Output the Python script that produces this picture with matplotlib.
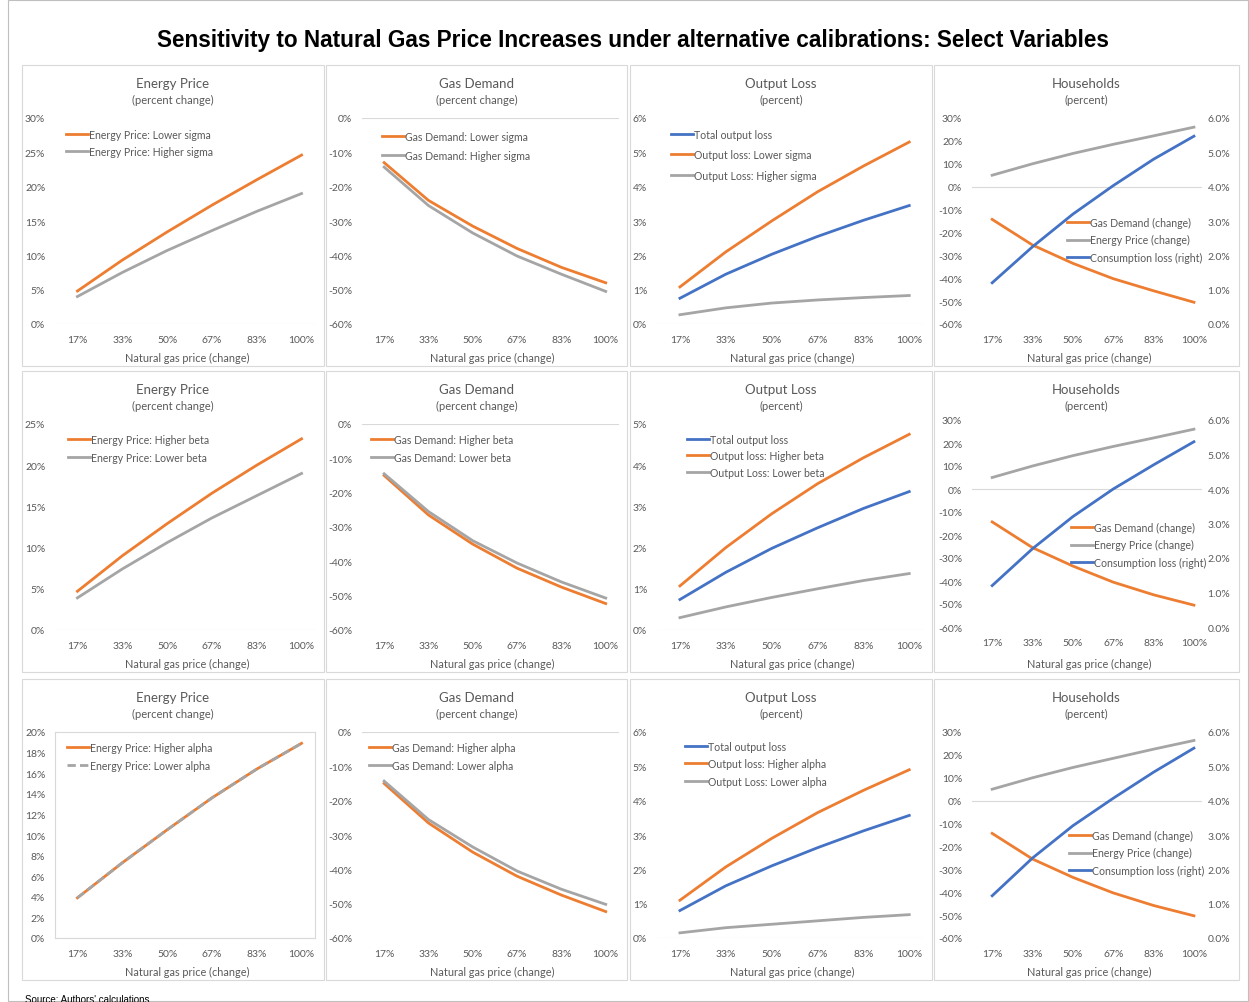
import numpy as np
import matplotlib.pyplot as plt
from matplotlib.patches import Rectangle
from matplotlib.ticker import FuncFormatter

W, H = 1249, 1003

ORANGE = "#ED7D31"
GRAY = "#A5A5A5"
BLUE = "#4472C4"
TXT = "#595959"
LINE = "#D9D9D9"

x_labels = ["17%", "33%", "50%", "67%", "83%", "100%"]

# Row 1: sigma
ep_lower_sigma = [4.8, 9.3, 13.4, 17.3, 21.0, 24.6]
ep_higher_sigma = [4.0, 7.5, 10.7, 13.6, 16.4, 19.0]
gd_lower_sigma = [-13.0, -24.0, -31.5, -38.0, -43.5, -48.0]
gd_higher_sigma = [-14.3, -25.5, -33.5, -40.2, -45.5, -50.5]
ol_total_sigma = [0.75, 1.45, 2.03, 2.55, 3.02, 3.45]
ol_lower_sigma = [1.08, 2.1, 3.0, 3.85, 4.6, 5.3]
ol_higher_sigma = [0.27, 0.47, 0.61, 0.70, 0.77, 0.83]
hh_gas_sigma = [-14.3, -25.5, -33.5, -40.2, -45.5, -50.5]
hh_energy_sigma = [5.0, 10.0, 14.5, 18.5, 22.2, 26.0]
hh_cons_sigma = [1.2, 2.25, 3.2, 4.03, 4.8, 5.47]

# Row 2: beta
ep_higher_beta = [4.7, 9.0, 12.9, 16.6, 20.0, 23.2]
ep_lower_beta = [3.9, 7.4, 10.6, 13.6, 16.3, 19.0]
gd_higher_beta = [-15.0, -26.5, -35.0, -42.0, -47.5, -52.3]
gd_lower_beta = [-14.5, -25.5, -34.0, -40.5, -46.0, -50.7]
ol_total_beta = [0.74, 1.40, 1.98, 2.48, 2.95, 3.36]
ol_higher_beta = [1.07, 2.0, 2.82, 3.55, 4.18, 4.75]
ol_lower_beta = [0.30, 0.56, 0.79, 1.0, 1.2, 1.37]
hh_gas_beta = [-14.3, -25.5, -33.5, -40.5, -46.0, -50.5]
hh_energy_beta = [5.0, 10.0, 14.5, 18.5, 22.2, 26.0]
hh_cons_beta = [1.2, 2.27, 3.2, 4.0, 4.7, 5.37]

# Row 3: alpha
ep_higher_alpha = [3.9, 7.3, 10.5, 13.6, 16.4, 18.9]
ep_lower_alpha = [3.9, 7.3, 10.5, 13.6, 16.4, 18.9]
gd_higher_alpha = [-15.0, -26.5, -35.0, -42.0, -47.5, -52.3]
gd_lower_alpha = [-14.3, -25.5, -33.5, -40.5, -45.8, -50.2]
ol_total_alpha = [0.80, 1.52, 2.10, 2.63, 3.12, 3.57]
ol_higher_alpha = [1.10, 2.07, 2.90, 3.65, 4.30, 4.90]
ol_lower_alpha = [0.15, 0.30, 0.40, 0.50, 0.60, 0.68]
hh_gas_alpha = [-14.3, -25.5, -33.5, -40.3, -45.8, -50.3]
hh_energy_alpha = [5.0, 10.0, 14.5, 18.5, 22.5, 26.3]
hh_cons_alpha = [1.23, 2.33, 3.27, 4.07, 4.83, 5.53]

plt.rcParams['font.family'] = ['Lato', 'DejaVu Sans']

fig = plt.figure(figsize=(W / 100, H / 100), dpi=100)


def px_axes(x0, y0, x1, y1):
    return fig.add_axes([x0 / W, 1 - y1 / H, (x1 - x0) / W, (y1 - y0) / H])


def fx(x):
    return x / W


def fy(y):
    return 1 - y / H


# outer frame
fig.add_artist(Rectangle((fx(8), fy(1002)), fx(1240), 1001 / H, transform=fig.transFigure,
                         fill=False, edgecolor="#BFBFBF", lw=0.8))

fig.text(fx(633), fy(40), "Sensitivity to Natural Gas Price Increases under alternative calibrations: Select Variables",
         ha="center", va="center", fontsize=16.3, fontweight="bold", family="Liberation Sans", color="black")
fig.text(fx(25), fy(995), "Source: Authors' calculations", ha="left", va="top", fontsize=7,
         family="Liberation Sans", color="black")

col_box = [(22, 324), (326, 627), (630, 932), (934, 1239)]
row_top = [66, 372, 680]
# plot area left/right per column
col_plot = [(55, 315), (362, 619), (657, 923), (972, 1202)]

pct = FuncFormatter(lambda v, p: "{:.0f}%".format(v))
pct1 = FuncFormatter(lambda v, p: "{:.1f}%".format(v))

LEG_FS = 7.6
TICK_FS = 7.5


def style_axes(ax):
    for s in ax.spines.values():
        s.set_visible(False)
    ax.tick_params(length=0, colors=TXT, labelsize=TICK_FS)
    ax.tick_params(axis="x", pad=8)
    ax.tick_params(axis="y", pad=7)
    ax.set_xlim(-0.5, 5.3)
    ax.set_xticks(range(len(x_labels)))
    ax.set_xticklabels(x_labels)
    ax.yaxis.set_major_formatter(pct)
    ax.axhline(0, color=LINE, lw=0.8, zorder=0)
    ax.patch.set_alpha(0)


def add_legend(ax, handles, x, y, spacing):
    fpx = LEG_FS * 100 / 72
    lab_sp = (spacing - 1.0 * fpx) / fpx
    ax.legend(handles=handles, loc="upper left", bbox_to_anchor=(fx(x), fy(y - 0.5 * fpx)),
              bbox_transform=fig.transFigure, frameon=False, fontsize=LEG_FS, handlelength=2.1,
              handletextpad=0.1, labelspacing=lab_sp, borderpad=0, borderaxespad=0, labelcolor=TXT)


def panel_frame(c, r, title, subtitle):
    x0, x1 = col_box[c]
    y0 = row_top[r]
    fig.add_artist(Rectangle((fx(x0), fy(y0 + 301)), (x1 - x0) / W, 301 / H, transform=fig.transFigure,
                             fill=False, edgecolor=LINE, lw=0.8))
    xc = (x0 + x1) / 2
    fig.text(fx(xc), fy(y0 + 18), title, ha="center", va="center", fontsize=9.5, color=TXT)
    fig.text(fx(xc), fy(y0 + 34), subtitle, ha="center", va="center", fontsize=8, color=TXT)
    px0, px1 = col_plot[c]
    fig.text(fx((px0 + px1) / 2 + 2), fy(y0 + 292), "Natural gas price (change)", ha="center", va="center",
             fontsize=7.8, color=TXT)


def energy_panel(r, s1, l1, s2, l2, ymax, step, leg_xy, dashed=False):
    panel_frame(0, r, "Energy Price", "(percent change)")
    y0 = row_top[r]
    ax = px_axes(col_plot[0][0], y0 + 53, col_plot[0][1], y0 + 259)
    style_axes(ax)
    x = np.arange(len(x_labels))
    h1, = ax.plot(x, s1, color=ORANGE, lw=2, label=l1)
    h2, = ax.plot(x, s2, color=GRAY, lw=2, label=l2, ls=(0, (3, 1.5)) if dashed else "-")
    ax.set_ylim(0, ymax)
    ax.set_yticks(np.arange(0, ymax + 0.1, step))
    if dashed:
        for s in ax.spines.values():
            s.set_visible(True)
            s.set_color(LINE)
            s.set_linewidth(0.8)
    add_legend(ax, [h1, h2], leg_xy[0], leg_xy[1], leg_xy[2])


def gas_panel(r, s1, l1, s2, l2, leg_xy):
    panel_frame(1, r, "Gas Demand", "(percent change)")
    y0 = row_top[r]
    ax = px_axes(col_plot[1][0], y0 + 53, col_plot[1][1], y0 + 259)
    style_axes(ax)
    x = np.arange(len(x_labels))
    h1, = ax.plot(x, s1, color=ORANGE, lw=2, label=l1)
    h2, = ax.plot(x, s2, color=GRAY, lw=2, label=l2)
    ax.set_ylim(-60, 0)
    ax.set_yticks(np.arange(-60, 1, 10))
    add_legend(ax, [h1, h2], leg_xy[0], leg_xy[1], leg_xy[2])


def output_panel(r, tot, s1, l1, s2, l2, ymax, leg_xy):
    panel_frame(2, r, "Output Loss", "(percent)")
    y0 = row_top[r]
    ax = px_axes(col_plot[2][0], y0 + 53, col_plot[2][1], y0 + 259)
    style_axes(ax)
    x = np.arange(len(x_labels))
    h1, = ax.plot(x, s1, color=ORANGE, lw=2, label=l1)
    h2, = ax.plot(x, s2, color=GRAY, lw=2, label=l2)
    h0, = ax.plot(x, tot, color=BLUE, lw=2, label="Total output loss")
    ax.set_ylim(0, ymax)
    ax.set_yticks(np.arange(0, ymax + 0.1, 1))
    add_legend(ax, [h0, h1, h2], leg_xy[0], leg_xy[1], leg_xy[2])


def household_panel(r, gas, energy, cons, leg_xy, top=53, bot=259):
    panel_frame(3, r, "Households", "(percent)")
    y0 = row_top[r]
    ax = px_axes(col_plot[3][0], y0 + top, col_plot[3][1], y0 + bot)
    style_axes(ax)
    ax.set_xlim(-0.5, 5.2)
    x = np.arange(len(x_labels))
    h1, = ax.plot(x, gas, color=ORANGE, lw=2, label="Gas Demand (change)")
    h2, = ax.plot(x, energy, color=GRAY, lw=2, label="Energy Price (change)")
    ax.set_ylim(-60, 30)
    ax.set_yticks(np.arange(-60, 31, 10))
    ax2 = ax.twinx()
    for s in ax2.spines.values():
        s.set_visible(False)
    ax2.tick_params(length=0, colors=TXT, labelsize=TICK_FS, pad=4)
    h3, = ax2.plot(x, cons, color=BLUE, lw=2, label="Consumption loss (right)")
    ax2.set_ylim(0, 6)
    ax2.set_yticks(np.arange(0, 6.1, 1))
    ax2.yaxis.set_major_formatter(pct1)
    add_legend(ax2, [h1, h2, h3], leg_xy[0], leg_xy[1], leg_xy[2])


# Row 1
energy_panel(0, ep_lower_sigma, "Energy Price: Lower sigma", ep_higher_sigma, "Energy Price: Higher sigma",
             30, 5, (66, 135, 17))
gas_panel(0, gd_lower_sigma, "Gas Demand: Lower sigma", gd_higher_sigma, "Gas Demand: Higher sigma",
          (382, 137, 19))
output_panel(0, ol_total_sigma, ol_lower_sigma, "Output loss: Lower sigma", ol_higher_sigma,
             "Output Loss: Higher sigma", 6, (671, 135, 20))
household_panel(0, hh_gas_sigma, hh_energy_sigma, hh_cons_sigma, (1067, 223, 17))

# Row 2
energy_panel(1, ep_higher_beta, "Energy Price: Higher beta", ep_lower_beta, "Energy Price: Lower beta",
             25, 5, (68, 440, 18))
gas_panel(1, gd_higher_beta, "Gas Demand: Higher beta", gd_lower_beta, "Gas Demand: Lower beta",
          (371, 440, 18))
output_panel(1, ol_total_beta, ol_higher_beta, "Output loss: Higher beta", ol_lower_beta,
             "Output Loss: Lower beta", 5, (687, 440, 16))
household_panel(1, hh_gas_beta, hh_energy_beta, hh_cons_beta, (1071, 528, 17), top=49, bot=256)

# Row 3
energy_panel(2, ep_higher_alpha, "Energy Price: Higher alpha", ep_lower_alpha, "Energy Price: Lower alpha",
             20, 2, (67, 748, 18), dashed=True)
gas_panel(2, gd_higher_alpha, "Gas Demand: Higher alpha", gd_lower_alpha, "Gas Demand: Lower alpha",
          (369, 748, 18))
output_panel(2, ol_total_alpha, ol_higher_alpha, "Output loss: Higher alpha", ol_lower_alpha,
             "Output Loss: Lower alpha", 6, (685, 747, 17))
household_panel(2, hh_gas_alpha, hh_energy_alpha, hh_cons_alpha, (1069, 836, 17))

fig.savefig("out.png", dpi=100)
